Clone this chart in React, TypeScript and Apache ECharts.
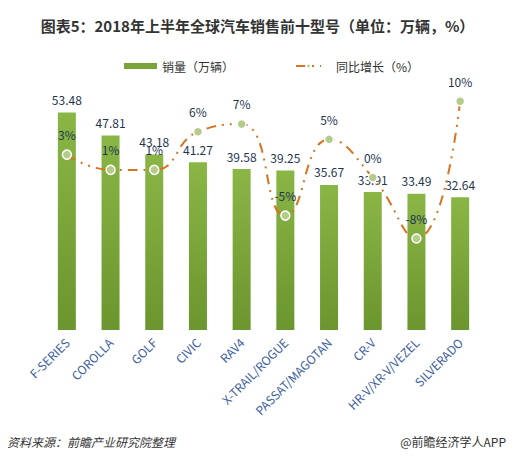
import React, { useEffect, useRef } from "react";
import * as echarts from "echarts";

const titleText = "图表5：2018年上半年全球汽车销售前十型号（单位：万辆，%）";
const categories = ["F-SERIES", "COROLLA", "GOLF", "CIVIC", "RAV4", "X-TRAIL/ROGUE", "PASSAT/MAGOTAN", "CR-V", "HR-V/XR-V/VEZEL", "SILVERADO"];
const sales = [53.48, 47.81, 43.18, 41.27, 39.58, 39.25, 35.67, 33.91, 33.49, 32.64];
const growth = [3, 1, 1, 6, 7, -5, 5, 0, -8, 10];
const seriesNames = ["销量（万辆）", "同比增长（%）"];
const sourceText = "资料来源：前瞻产业研究院整理";
const brandText = "@前瞻经济学人APP";

export default function App() {
  const ref = useRef<HTMLDivElement>(null);
  useEffect(() => {
    if (!ref.current) return;
    const chart = echarts.init(ref.current, null, { renderer: "svg" });
    const font = "'Noto Sans CJK SC', 'Noto Sans', sans-serif";
    chart.setOption({
      animation: false,
      backgroundColor: "#ffffff",
      textStyle: { fontFamily: font },
      title: {
        text: titleText,
        left: "center",
        top: 13,
        textStyle: { fontSize: 15, fontWeight: "bold", color: "#333333", fontFamily: font },
      },
      legend: [
        {
          top: 55,
          left: 119,
          textStyle: { fontSize: 12, color: "#333333", fontFamily: font },
          data: [{ name: seriesNames[0], icon: "rect", itemStyle: { color: "#7aa33a" } }],
          itemWidth: 33,
          itemHeight: 6,
          itemGap: 3,
        },
        {
          top: 55,
          left: 290,
          textStyle: { fontSize: 12, color: "#333333", fontFamily: font, padding: [0, 0, 0, 10] },
          data: [{ name: seriesNames[1] }],
          itemWidth: 25,
          itemHeight: 6,
        },
      ],
      grid: { left: 45, right: 33, top: 86, bottom: 131 },
      xAxis: {
        type: "category",
        data: categories,
        axisLine: { show: false },
        axisTick: { show: false },
        axisLabel: {
          rotate: 45,
          interval: 0,
          fontSize: 12,
          color: "#3f62a0",
          margin: 10,
          fontFamily: font,
        },
      },
      yAxis: [
        { type: "value", min: 0, max: 60, show: false },
        { type: "value", min: -20, max: 12, show: false },
      ],
      series: [
        {
          name: seriesNames[0],
          type: "bar",
          data: sales,
          barWidth: 18,
          itemStyle: {
            color: new echarts.graphic.LinearGradient(0, 0, 0, 1, [
              { offset: 0, color: "#8ab646" },
              { offset: 1, color: "#6b952e" },
            ]),
          },
          label: {
            show: true,
            position: "top",
            distance: 7,
            fontSize: 12,
            color: "#1f3550",
            fontFamily: font,
          },
        },
        {
          name: seriesNames[1],
          type: "line",
          yAxisIndex: 1,
          data: growth,
          smooth: true,
          symbol: "circle",
          symbolSize: 9,
          lineStyle: { color: "#d9731f", width: 2, type: [10, 6, 2, 6, 2, 6] },
          itemStyle: { color: "#b4cb8a", borderColor: "#ffffff", borderWidth: 1.5 },
          label: {
            show: true,
            position: "top",
            distance: 9,
            fontSize: 12,
            color: "#1f3550",
            formatter: "{c}%",
            fontFamily: font,
          },
        },
      ],
      graphic: [
        {
          type: "text",
          left: 7,
          top: 435,
          style: { text: sourceText, fontSize: 12, fontStyle: "italic", fill: "#333333", fontFamily: font },
        },
        {
          type: "text",
          right: 9,
          top: 435,
          style: { text: brandText, fontSize: 12, fill: "#333333", fontFamily: font },
        },
      ],
    });
    return () => chart.dispose();
  }, []);
  return <div ref={ref} style={{ width: 515, height: 461, margin: -8 }} />;
}
